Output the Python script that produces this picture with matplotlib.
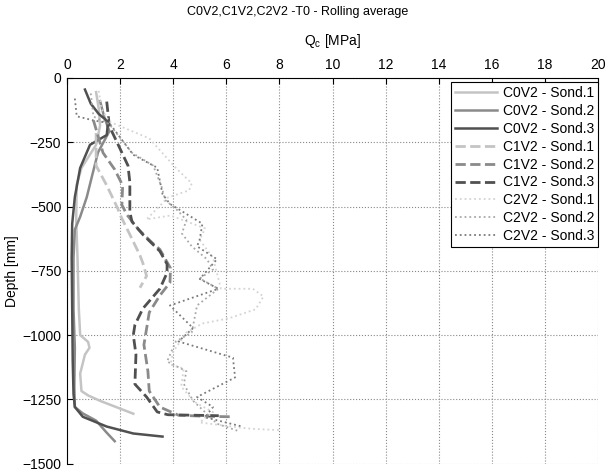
import matplotlib.pyplot as plt

plt.rcParams['font.family'] = ['Liberation Sans', 'DejaVu Sans']

# C0V2 (solid)
c0s1_q = [1.1, 1.2, 1.25, 1.1, 0.55, 0.37, 0.35, 0.4, 0.45, 0.5, 0.8, 0.85, 0.68, 0.5, 0.55, 0.8, 1.25, 1.9, 2.5]
c0s1_d = [-55, -120, -185, -260, -350, -415, -550, -700, -900, -1000, -1027, -1050, -1076, -1150, -1218, -1235, -1256, -1282, -1306]
c0s2_q = [1.25, 1.4, 1.6, 1.17, 0.95, 0.75, 0.5, 0.3, 0.25, 0.25, 0.3, 0.28, 0.3, 0.6, 1.1, 1.5, 1.8]
c0s2_d = [-90, -150, -207, -290, -380, -463, -540, -590, -700, -900, -1050, -1200, -1280, -1305, -1333, -1380, -1413]
c0s3_q = [0.68, 0.9, 1.2, 1.55, 1.5, 0.87, 0.5, 0.3, 0.2, 0.18, 0.2, 0.22, 0.25, 0.3, 0.6, 1.5, 2.5, 3.6]
c0s3_d = [-45, -100, -140, -170, -222, -260, -350, -463, -567, -700, -900, -1100, -1230, -1280, -1318, -1356, -1383, -1395]

# C1V2 (dashed)
c1s1_q = [1.1, 1.1, 1.5, 1.92, 2.0, 2.37, 2.75, 2.86, 3.0, 2.75]
c1s1_d = [-214, -341, -418, -509, -532, -609, -690, -720, -770, -816]
c1s2_q = [1.0, 1.36, 1.8, 2.1, 2.07, 2.26, 2.7, 3.2, 3.5, 3.9, 3.88, 3.5, 3.1, 2.9, 3.05, 3.1, 3.5, 4.2, 5.2, 6.2]
c1s2_d = [-165, -291, -356, -418, -494, -532, -590, -640, -667, -740, -796, -846, -912, -1038, -1141, -1218, -1280, -1312, -1316, -1318]
c1s3_q = [1.5, 1.6, 1.9, 2.3, 2.37, 2.37, 2.45, 2.86, 3.5, 3.77, 3.77, 3.5, 2.86, 2.56, 2.5, 2.6, 2.56, 3.0, 3.4, 3.8, 4.8, 5.8]
c1s3_d = [-92, -188, -253, -341, -406, -521, -559, -609, -674, -724, -758, -820, -897, -961, -1000, -1076, -1191, -1241, -1299, -1310, -1312, -1314]

# C2V2 (dotted)
c2s1_q = [1.2, 1.3, 1.6, 3.1, 4.1, 4.7, 4.6, 3.8, 3.0, 3.9, 5.2, 5.0, 5.5, 5.8, 7.0, 7.4, 7.1, 6.1, 5.1, 4.5, 4.0, 3.9, 4.4, 4.3, 4.8, 5.5, 5.0, 6.5, 7.0, 8.0]
c2s1_d = [-50, -120, -170, -235, -350, -410, -437, -465, -550, -535, -585, -630, -700, -820, -820, -850, -900, -935, -955, -990, -1065, -1115, -1130, -1200, -1260, -1300, -1340, -1360, -1365, -1370]
c2s2_q = [0.9, 1.0, 1.6, 2.45, 3.25, 3.57, 3.7, 4.14, 4.5, 4.33, 4.7, 5.27, 5.5, 5.0, 5.7, 4.9, 4.7, 4.1, 3.77, 4.5, 4.4, 4.75, 5.2, 5.65, 6.5]
c2s2_d = [-60, -150, -180, -291, -341, -425, -475, -513, -552, -605, -655, -705, -745, -780, -820, -885, -990, -1025, -1103, -1141, -1190, -1256, -1300, -1345, -1375]
c2s3_q = [0.3, 0.37, 1.0, 1.6, 2.5, 3.4, 3.6, 3.88, 5.1, 5.0, 4.9, 5.65, 5.0, 5.7, 3.88, 4.75, 4.2, 6.25, 6.33, 4.9, 5.5, 5.2, 6.6]
c2s3_d = [-80, -149, -165, -176, -299, -349, -452, -490, -567, -628, -655, -705, -782, -820, -885, -973, -1025, -1088, -1165, -1241, -1280, -1320, -1356]

labels = ['C0V2 - Sond.1', 'C0V2 - Sond.2', 'C0V2 - Sond.3',
          'C1V2 - Sond.1', 'C1V2 - Sond.2', 'C1V2 - Sond.3',
          'C2V2 - Sond.1', 'C2V2 - Sond.2', 'C2V2 - Sond.3']
series = [(c0s1_q, c0s1_d), (c0s2_q, c0s2_d), (c0s3_q, c0s3_d),
          (c1s1_q, c1s1_d), (c1s2_q, c1s2_d), (c1s3_q, c1s3_d),
          (c2s1_q, c2s1_d), (c2s2_q, c2s2_d), (c2s3_q, c2s3_d)]
shades = ['#c4c4c4', '#8a8a8a', '#505050']
dot_shades = ['#d4d4d4', '#a8a8a8', '#7a7a7a']
styles = ['-', '--', ':']
widths = [1.8, 2.0, 1.3]

fig = plt.figure(figsize=(6.08, 4.74), dpi=100)
ax = fig.add_axes([0.110, 0.022, 0.874, 0.8135])

for i, (q, d) in enumerate(series):
    grp = i // 3
    col = dot_shades[i % 3] if grp == 2 else shades[i % 3]
    ax.plot(q, d, styles[grp], color=col, lw=widths[grp], label=labels[i])

ax.set_xlim(0, 20)
ax.set_ylim(-1500, 0)
ax.set_xticks(range(0, 21, 2))
ax.set_yticks(range(-1500, 1, 250))
ax.xaxis.tick_top()
ax.xaxis.set_label_position('top')
ax.spines['right'].set_visible(False)
ax.spines['bottom'].set_visible(False)
ax.tick_params(direction='in', length=4, labelsize=10, pad=4)
ax.grid(True, ls=':', color='#888888', lw=0.8)

ax.set_xlabel('Q$_\\mathregular{c}$ [MPa]', fontsize=10, labelpad=10)
ax.set_ylabel('Depth [mm]', fontsize=10, labelpad=2)
fig.text(0.4897, 1 - 12 / 474, 'C0V2,C1V2,C2V2 -T0 - Rolling average',
         fontsize=9, ha='center', va='center')

leg = ax.legend(loc='upper right', fontsize=10, fancybox=False, framealpha=1,
                edgecolor='black', handlelength=3.0, borderpad=0.3,
                labelspacing=0.28, handletextpad=0.4, borderaxespad=0,
                bbox_to_anchor=(1.0, 0.99))
leg.get_frame().set_linewidth(0.8)

fig.savefig('out.png', dpi=100)
